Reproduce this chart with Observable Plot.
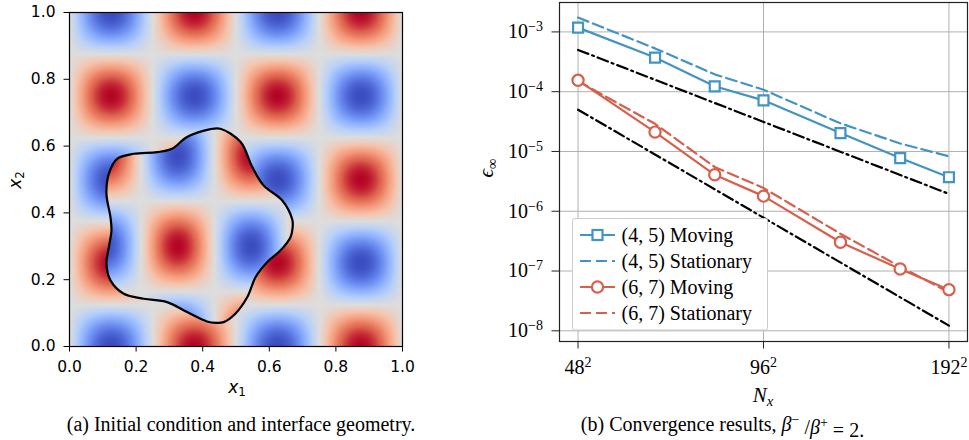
<!DOCTYPE html>
<html><head><meta charset="utf-8">
<script src="https://cdn.jsdelivr.net/npm/d3@7"></script>
<script src="https://cdn.jsdelivr.net/npm/@observablehq/plot@0.6"></script>
<style>
body{margin:0;background:#fff;}
#root{position:relative;width:969px;height:440px;overflow:hidden;background:#fff;}
.panel{position:absolute;top:0;}
</style></head><body><div id="root"></div>
<script>
// ---------- data: panel (b) convergence ----------
const Nx = [48, 64, 80, 96, 128, 160, 192];
const errMoving45     = [1.18e-3, 3.72e-4, 1.23e-4, 7.16e-5, 2.03e-5, 7.75e-6, 3.71e-6];
const errStationary45 = [1.74e-3, 5.3e-4, 1.95e-4, 1.08e-4, 2.95e-5, 1.36e-5, 8.3e-6];
const errMoving67     = [1.55e-4, 2.11e-5, 4.07e-6, 1.79e-6, 3.03e-7, 1.08e-7, 4.88e-8];
const errStationary67 = [1.50e-4, 2.9e-5, 5.5e-6, 2.45e-6, 4.2e-7, 1.18e-7, 4.4e-8];
const refNx  = [48, 192];
const ref4th = [5.0e-4, 1.95e-6];
const ref6th = [5.0e-5, 1.22e-8];
const xTicksB = [48, 96, 192];
const yTicksB = [1e-3, 1e-4, 1e-5, 1e-6, 1e-7, 1e-8];
const legendLabels = ["(4, 5) Moving", "(4, 5) Stationary", "(6, 7) Moving", "(6, 7) Stationary"];

// ---------- data: panel (a) interface + field ----------
const ifaceX = [0.670,0.669,0.639,0.583,0.549,0.514,0.453,0.420,0.353,0.308,0.263,0.193,0.143,0.118,0.111,0.123,0.126,0.118,0.111,0.123,0.163,0.223,0.293,0.353,0.413,0.440,0.463,0.498,0.534,0.559,0.594,0.634,0.664];
const ifaceY = [0.355,0.380,0.437,0.482,0.537,0.612,0.652,0.650,0.627,0.592,0.582,0.577,0.562,0.517,0.457,0.387,0.347,0.297,0.248,0.198,0.158,0.143,0.133,0.103,0.075,0.071,0.073,0.098,0.148,0.208,0.253,0.288,0.328];
const ticksA = [0, 0.2, 0.4, 0.6, 0.8, 1.0];
// initial condition parameters
const outerK = 4 * Math.PI;               // outside: -sin(4πx) cos(4πy)
const innerHalfX = 0.22, innerX0 = 0.215;  // inside: sin(π(x-x0)/hx) cos(π(y-y0)/hy)
const innerHalfY = 0.27, innerY0 = 0.30;
const coolwarm = ["#3b4cc0","#6282ea","#8db0fe","#b8d0f9","#dddddd","#f5c4ad","#f49a7b","#de604d","#b40426"];

const blue = "#4393c3", red = "#d6604d";
const NS = "http://www.w3.org/2000/svg";

// ---------- panel (a) ----------
const iface = ifaceX.map((x, i) => ({x, y: ifaceY[i]}));
const pathStr = d3.line().curve(d3.curveCatmullRomClosed)(iface.map(p => [p.x * 1000, p.y * 1000]));
const path2d = new Path2D(pathStr);
const ctx = document.createElement("canvas").getContext("2d");
function field(x, y) {
  if (ctx.isPointInPath(path2d, x * 1000, y * 1000)) {
    return Math.sin(Math.PI * (x - innerX0) / innerHalfX) * Math.cos(Math.PI * (y - innerY0) / innerHalfY);
  }
  return -Math.sin(outerK * x) * Math.cos(outerK * y);
}

const left = Plot.plot({
  width: 420, height: 440,
  marginLeft: 69, marginRight: 18, marginTop: 12, marginBottom: 94,
  x: {domain: [0, 1]}, y: {domain: [0, 1]},
  color: {type: "linear", domain: [-1, 1], interpolate: d3.piecewise(d3.interpolateRgb, coolwarm)},
  style: {fontFamily: "DejaVu Sans", fontSize: "15.5px", background: "white", overflow: "visible", color: "black"},
  marks: [
    Plot.raster({fill: field, x1: 0, x2: 1, y1: 0, y2: 1}),
    Plot.line(iface, {x: "x", y: "y", curve: "catmull-rom-closed", stroke: "black", strokeWidth: 2.2}),
    Plot.frame({stroke: "black", strokeWidth: 1.2}),
    Plot.axisX(ticksA, {tickFormat: d3.format(".1f"), tickSize: 5.5, tickPadding: 9, fontSize: 15.5, label: null, stroke: "black"}),
    Plot.axisY(ticksA, {tickFormat: d3.format(".1f"), tickSize: 5.5, tickPadding: 8.5, fontSize: 15.5, label: null, stroke: "black"})
  ]
});
left.classList.add("panel");
left.style.left = "0px";

// ---------- panel (b) ----------
const rows = arr => Nx.map((n, i) => ({n, e: arr[i]}));
const refRows = arr => refNx.map((n, i) => ({n, e: arr[i]}));
const dashStat = "11,5";
const dashRef = "11,4,2,4";
const right = Plot.plot({
  width: 489, height: 440,
  marginLeft: 79, marginRight: 2, marginTop: 2, marginBottom: 99,
  x: {type: "log", base: 2, domain: [48 * 2 ** -0.1, 192 * 2 ** 0.1]},
  y: {type: "log", domain: [10 ** -8.179, 10 ** -2.508]},
  style: {fontFamily: "Liberation Serif", fontSize: "20px", background: "white", overflow: "visible", color: "black"},
  marks: [
    Plot.gridX(xTicksB, {stroke: "#b0b0b0", strokeOpacity: 1, strokeWidth: 1}),
    Plot.gridY(yTicksB, {stroke: "#b0b0b0", strokeOpacity: 1, strokeWidth: 1}),
    Plot.line(refRows(ref4th), {x: "n", y: "e", stroke: "black", strokeWidth: 2.2, strokeDasharray: dashRef}),
    Plot.line(refRows(ref6th), {x: "n", y: "e", stroke: "black", strokeWidth: 2.2, strokeDasharray: dashRef}),
    Plot.line(rows(errStationary45), {x: "n", y: "e", stroke: blue, strokeWidth: 2.2, strokeDasharray: dashStat}),
    Plot.line(rows(errMoving45), {x: "n", y: "e", stroke: blue, strokeWidth: 2.2}),
    Plot.dot(rows(errMoving45), {x: "n", y: "e", symbol: "square", r: 5.6, stroke: blue, strokeWidth: 2.2, fill: "white"}),
    Plot.line(rows(errStationary67), {x: "n", y: "e", stroke: red, strokeWidth: 2.2, strokeDasharray: dashStat}),
    Plot.line(rows(errMoving67), {x: "n", y: "e", stroke: red, strokeWidth: 2.2}),
    Plot.dot(rows(errMoving67), {x: "n", y: "e", symbol: "circle", r: 5.6, stroke: red, strokeWidth: 2.2, fill: "white"}),
    Plot.frame({stroke: "#222", strokeWidth: 1.2}),
    Plot.axisX(xTicksB, {tickFormat: d => d + "|2", tickSize: 7.5, tickPadding: 11, fontSize: 20, label: null, stroke: "#222"}),
    Plot.axisY(yTicksB, {tickFormat: d => "10|\u2212" + Math.round(-Math.log10(d)), tickSize: 7.5, tickPadding: 9, fontSize: 20, label: null, stroke: "#222"})
  ]
});
right.classList.add("panel");
right.style.left = "480px";

// superscripts in tick labels
function supify(svg) {
  svg.querySelectorAll("text").forEach(t => {
    const s = t.textContent;
    if (!s.includes("|")) return;
    const [base, sup] = s.split("|");
    t.textContent = "";
    const a = document.createElementNS(NS, "tspan"); a.textContent = base;
    const b = document.createElementNS(NS, "tspan"); b.textContent = sup;
    b.setAttribute("dy", "-0.5em"); b.setAttribute("font-size", "70%");
    t.append(a, b);
  });
}
supify(right);

function addText(svg, x, y, parts, opts = {}) {
  const t = document.createElementNS(NS, "text");
  t.setAttribute("x", x); t.setAttribute("y", y);
  t.setAttribute("text-anchor", opts.anchor || "middle");
  if (opts.family) t.setAttribute("font-family", opts.family);
  if (opts.size) t.setAttribute("font-size", opts.size);
  if (opts.rotate) t.setAttribute("transform", `rotate(${opts.rotate},${x},${y})`);
  t.setAttribute("fill", "black");
  for (const p of parts) {
    const sp = document.createElementNS(NS, "tspan");
    sp.textContent = p.t;
    if (p.italic) sp.setAttribute("font-style", "italic");
    if (p.dy) sp.setAttribute("dy", p.dy);
    if (p.size) sp.setAttribute("font-size", p.size);
    sp.setAttribute("fill", "black");
    t.append(sp);
  }
  svg.append(t);
  return t;
}

// panel (a) labels
addText(left, 237, 393, [{t: "x", italic: true}, {t: "1", size: "70%", dy: "0.25em"}], {family: "DejaVu Sans", size: 17});
addText(left, 21, 180, [{t: "x", italic: true}, {t: "2", size: "70%", dy: "0.25em"}], {family: "DejaVu Sans", size: 17, rotate: -90});
addText(left, 241, 431, [{t: "(a) Initial condition and interface geometry."}], {family: "Liberation Serif", size: 20});

// panel (b) labels
addText(right, 283, 402, [{t: "N", italic: true}, {t: "x", italic: true, size: "70%", dy: "0.3em"}], {family: "Liberation Serif", size: 21});
addText(right, 13, 168, [{t: "\u03f5", italic: true}, {t: "\u221e", size: "70%", dy: "0.3em"}], {family: "Liberation Serif", size: 21, rotate: -90});
addText(right, 242.5, 431, [
  {t: "(b) Convergence results, "}, {t: "\u03b2", italic: true}, {t: "\u2212", size: "70%", dy: "-0.5em"},
  {t: " /", dy: "0.5em"}, {t: "\u03b2", italic: true}, {t: "+", size: "70%", dy: "-0.5em"}, {t: " = 2.", dy: "0.5em"}
], {family: "Liberation Serif", size: 20});

// legend (inside panel b)
(function legend() {
  const g = d3.select(right).append("g").attr("font-family", "Liberation Serif").attr("font-size", 20).attr("text-anchor", "start");
  g.append("rect").attr("x", 92.5).attr("y", 218.5).attr("width", 195).attr("height", 111.5)
    .attr("rx", 2).attr("fill", "white").attr("fill-opacity", 1).attr("stroke", "#cccccc").attr("stroke-width", 1);
  const rowsY = [235, 261, 287, 313];
  const styles = [
    {c: blue, dash: null, sym: "square"},
    {c: blue, dash: dashStat, sym: null},
    {c: red, dash: null, sym: "circle"},
    {c: red, dash: dashStat, sym: null}
  ];
  styles.forEach((s, i) => {
    const y = rowsY[i];
    g.append("line").attr("x1", 100).attr("x2", 135).attr("y1", y).attr("y2", y)
      .attr("stroke", s.c).attr("stroke-width", 2.2).attr("stroke-dasharray", s.dash);
    if (s.sym === "square") g.append("rect").attr("x", 112.5).attr("y", y - 5).attr("width", 10).attr("height", 10)
      .attr("fill", "white").attr("stroke", s.c).attr("stroke-width", 2.2);
    if (s.sym === "circle") g.append("circle").attr("cx", 117.5).attr("cy", y).attr("r", 5.6)
      .attr("fill", "white").attr("stroke", s.c).attr("stroke-width", 2.2);
    g.append("text").attr("x", 141.5).attr("y", y).attr("dy", "0.35em").attr("text-anchor", "start").attr("fill", "black").text(legendLabels[i]);
  });
})();

const root = document.getElementById("root");
root.append(left, right);
</script></body></html>
